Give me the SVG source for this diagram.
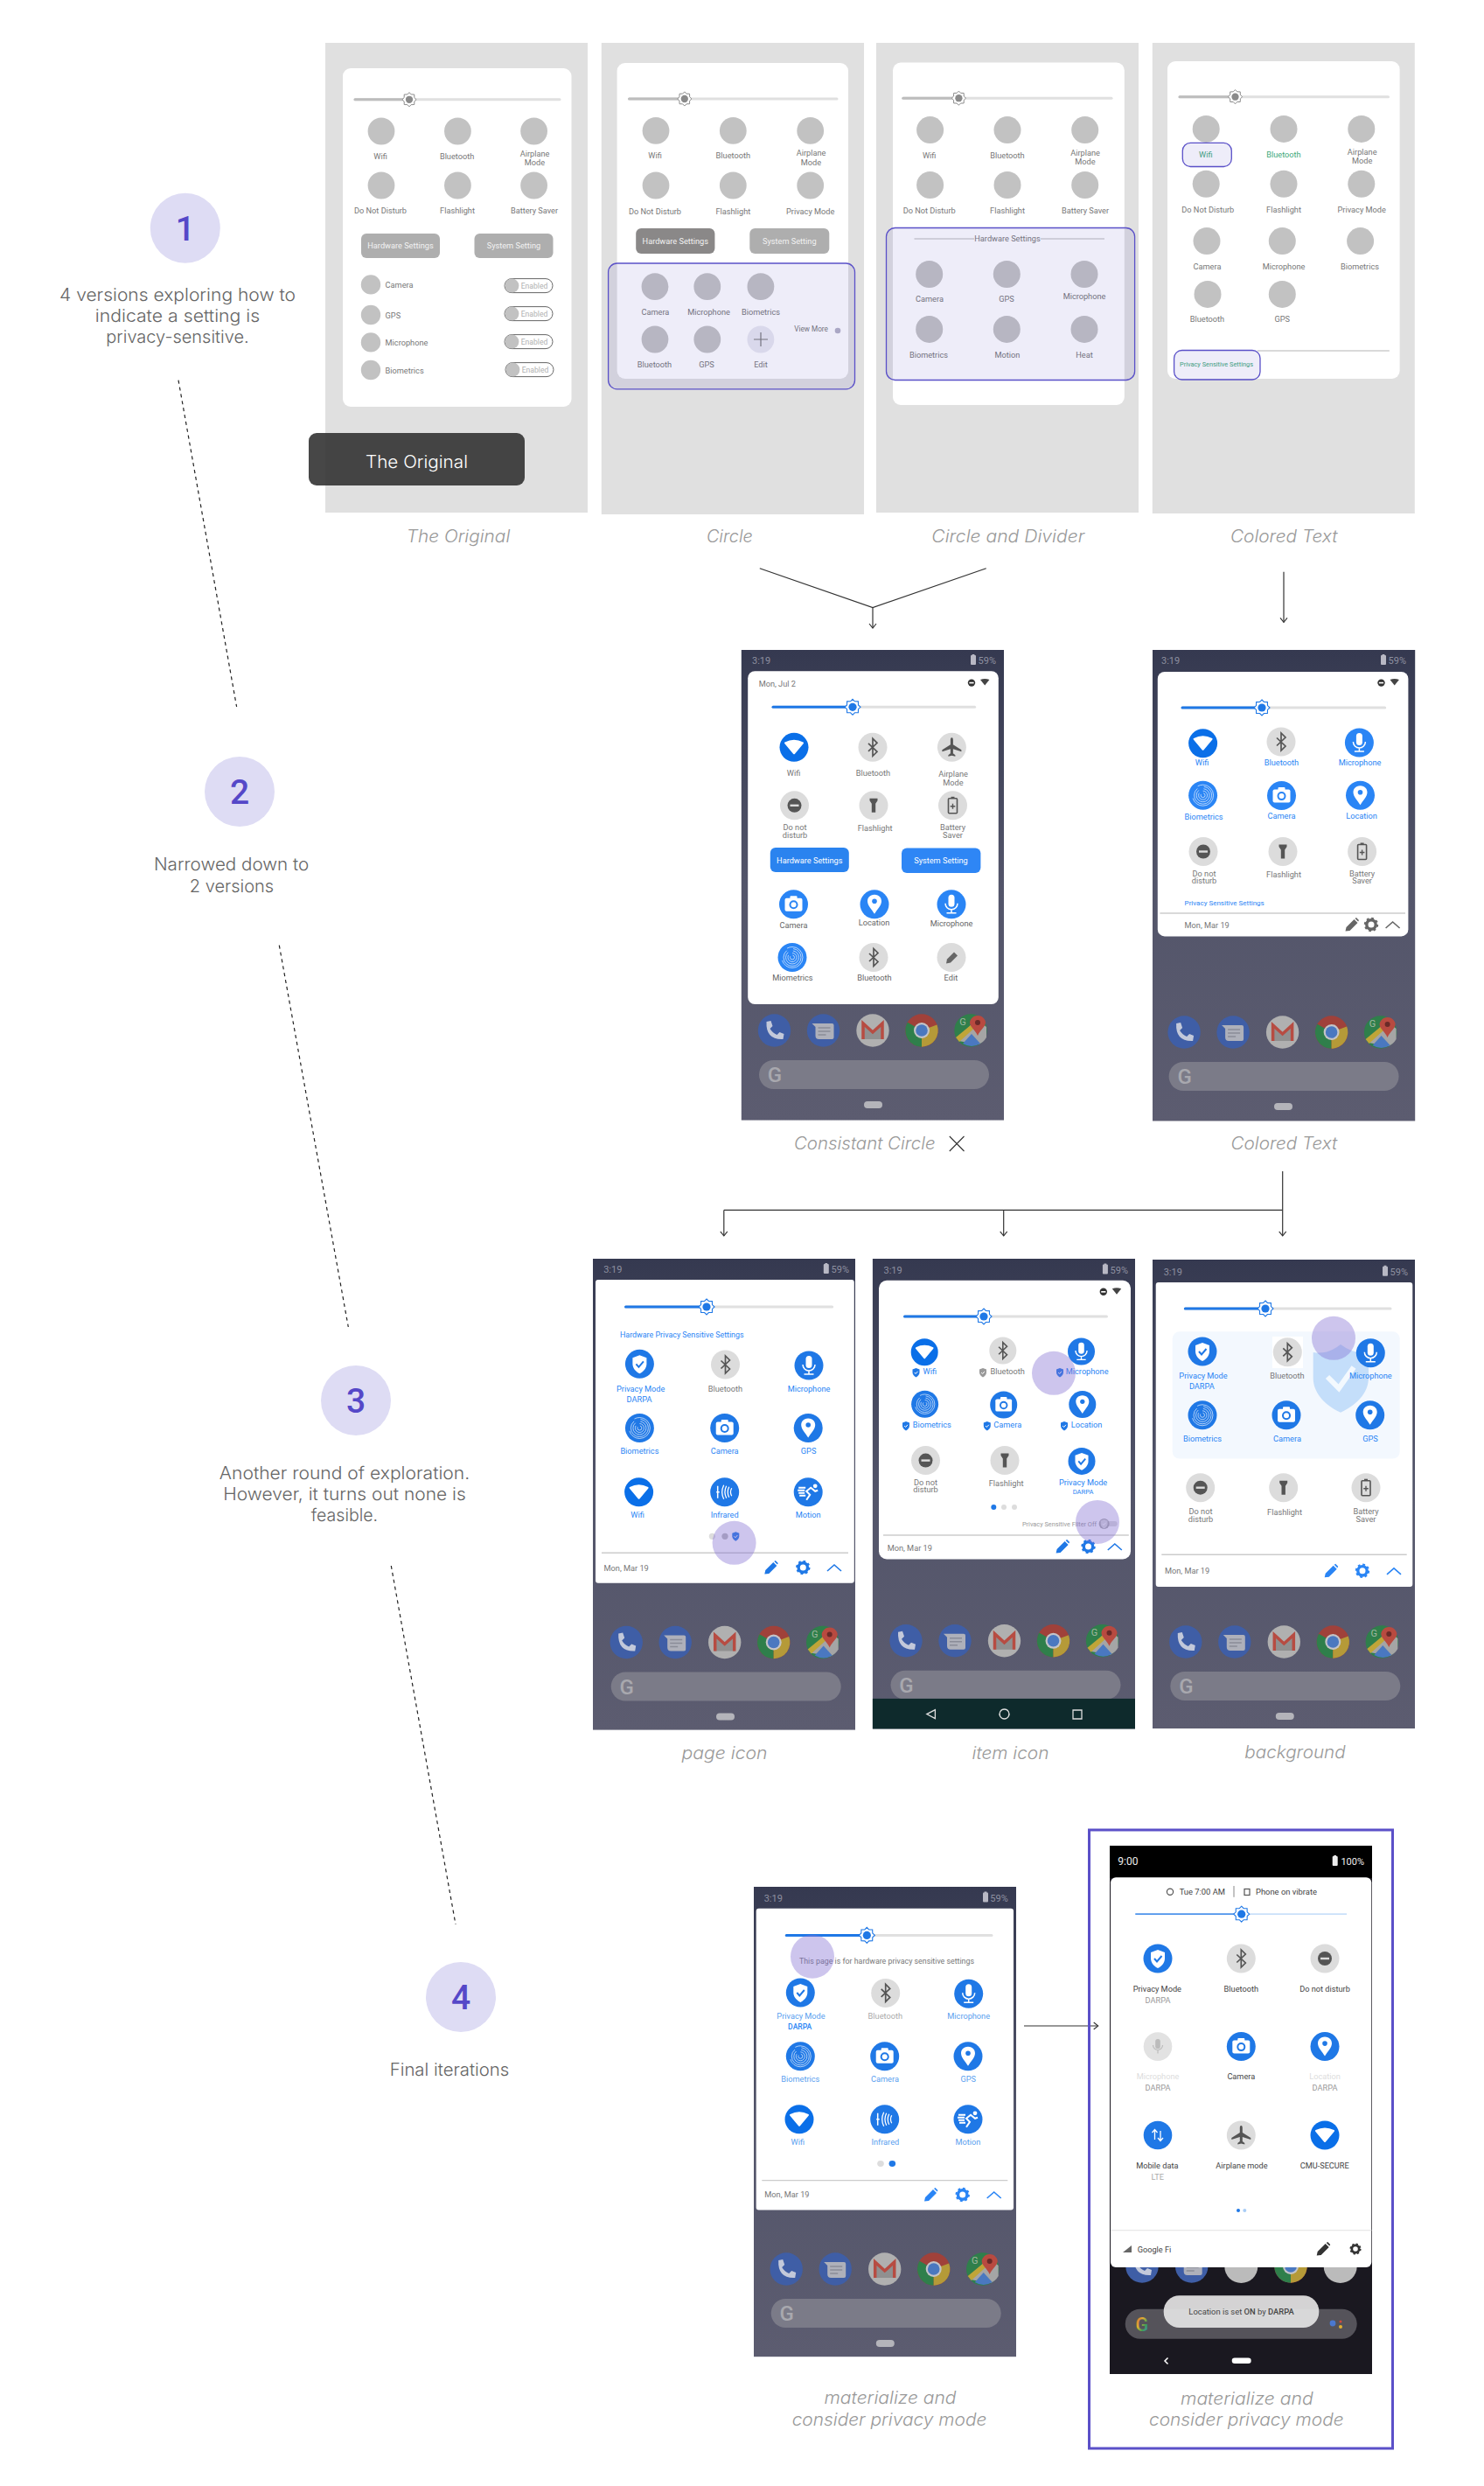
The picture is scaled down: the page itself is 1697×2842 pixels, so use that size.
<svg xmlns="http://www.w3.org/2000/svg" width="1697" height="2842" viewBox="0 0 1697 2842">
<style>
svg{font-family:Roboto,"Liberation Sans",sans-serif}
.bgw{fill:#fff}
.panel{fill:#e0e0e0}
.card{fill:#fff}
.wc{fill:#c2c2c2}
.hl{fill:#5a50c8;fill-opacity:.1;stroke:#5a50c8;stroke-width:1.3}
.touch{fill:#826ed2;fill-opacity:.4}
text{text-anchor:middle}
.t text,text.t{font-size:9.2px;fill:#777}
.tb text,text.tb{font-size:9.2px;fill:#2a85f5}
.tl text,text.tl{font-size:9.2px;fill:#5aa0ef}
.tk text,text.tk{font-size:9.2px;fill:#444}
.tm text,text.tm{font-size:9.2px;fill:#666}
.g text,text.g{font-size:9.2px;fill:#3ea87a}
.s{font-size:7.6px;fill:#999}
.st{font-size:11px;fill:#8e90a0}
.cap{font-family:Inter,"Open Sans",sans-serif;font-weight:300;font-style:italic;font-size:20px;fill:#999}
.body{font-family:Inter,"Open Sans",sans-serif;font-weight:300;font-size:20px;fill:#666}
.num{font-size:39px;font-weight:500;fill:#5548c8}
.step{fill:#dedcf4}
.tk0{stroke:#e0e0e0;stroke-width:3;stroke-linecap:round;fill:none}
.tk1{stroke:#bdbdbd;stroke-width:3;stroke-linecap:round;fill:none}
.tk2{stroke:#1f78e6;stroke-width:3;stroke-linecap:round;fill:none}
.btn{fill:#aeaeae}
.btxt{font-size:9.2px;fill:#f2f2f2}
.en{font-size:8.6px;fill:#b0b0b0}
.tog{fill:#fff;stroke:#666;stroke-width:1}
.div{stroke:#ccc;stroke-width:1.4}
.conn{fill:none;stroke:#333;stroke-width:1.2}
.dash{fill:none;stroke:#222;stroke-width:1.2;stroke-dasharray:4 4}
.ms{color:#1f78e6}
.date{font-size:9.2px;fill:#777;text-anchor:start}
.start{text-anchor:start}
.end{text-anchor:end}
.cb{color:#1f78e6}
.cc{color:#2a85f5}
.cd{color:#666}
.ck{color:#333}
</style>
<defs>
<linearGradient id="ph" x1="0" y1="0" x2="0" y2="1"><stop offset="0" stop-color="#353950"/><stop offset=".5" stop-color="#53556a"/><stop offset="1" stop-color="#5c5c70"/></linearGradient>
<linearGradient id="gg" x1="0" y1="0" x2="1" y2="1"><stop offset="0" stop-color="#d2483c"/><stop offset=".4" stop-color="#e0b030"/><stop offset=".65" stop-color="#3f9e55"/><stop offset="1" stop-color="#4285f4"/></linearGradient>
<marker id="ah" markerUnits="userSpaceOnUse" markerWidth="12" markerHeight="12" refX="7" refY="5" orient="auto"><path d="M2,1 L7,5 L2,9" fill="none" stroke="#333" stroke-width="1.1"/></marker>
<g id="sun"><path d="M0,-9 L2.4,-6.5 L6.4,-6.4 L6.5,-2.4 L9,0 L6.5,2.4 L6.4,6.4 L2.4,6.5 L0,9 L-2.4,6.5 L-6.4,6.4 L-6.5,2.4 L-9,0 L-6.5,-2.4 L-6.4,-6.4 L-2.4,-6.5Z" fill="#fff" stroke="currentColor" stroke-width="1.1"/><circle r="4.6" fill="currentColor"/></g>
<g id="b-wifi"><circle r="16.5" fill="#0a6fe8"/><path d="M-10,-5 Q0,-10 10,-5 L0,7Z" fill="#fff" stroke="#fff" stroke-width="2" stroke-linejoin="round"/></g>
<g id="b-cam"><circle r="16.5" fill="currentColor"/><rect x="-10" y="-7" width="20" height="15" rx="2" fill="#fff"/><rect x="-4" y="-9.5" width="8" height="4" rx="1" fill="#fff"/><circle cy=".5" r="5" fill="currentColor"/><circle cy=".5" r="3" fill="#fff"/></g>
<g id="b-loc"><circle r="16.5" fill="currentColor"/><path d="M0,-11 C-5.5,-11 -8,-7 -8,-3.5 C-8,1.5 -3,6 0,11 C3,6 8,1.5 8,-3.5 C8,-7 5.5,-11 0,-11Z" fill="#fff"/><circle cy="-3.5" r="2.8" fill="currentColor"/></g>
<g id="b-mic"><circle r="16.5" fill="currentColor"/><rect x="-3.5" y="-11" width="7" height="14" rx="3.5" fill="#fff"/><path d="M-7,-1 A7,7 0 0 0 7,-1 M0,6 V9.5 M-5.5,10 H5.5" fill="none" stroke="#fff" stroke-width="1.5"/></g>
<g id="b-fp"><circle r="16.5" fill="currentColor"/><g fill="none" stroke="#fff" stroke-opacity=".8" stroke-width=".8"><circle r="2.5" stroke-dasharray="9 3"/><circle r="5" stroke-dasharray="18 5"/><circle r="7.5" stroke-dasharray="30 6"/><circle r="10" stroke-dasharray="40 8"/><circle r="12" stroke-dasharray="34 16"/></g></g>
<g id="b-shield"><circle r="16.5" fill="currentColor"/><path d="M0,-10 L8,-7 V0 C8,5 4,9 0,11 C-4,9 -8,5 -8,0 V-7Z" fill="#fff"/><path d="M-4,0 L-1,3.5 L4.5,-3" fill="none" stroke="currentColor" stroke-width="2"/></g>
<g id="b-ir"><circle r="16.5" fill="currentColor"/><path d="M-8,-7 V7 M-9.5,0 H-6" stroke="#fff" stroke-width="1.5" fill="none"/><path d="M-1,-8 Q-5,0 -1,8 M2,-7 Q-1.5,0 2,7 M5,-6 Q2,0 5,6 M8,-4.5 Q5.5,0 8,4.5" fill="none" stroke="#fff" stroke-width="1.3"/></g>
<g id="b-run"><circle r="16.5" fill="currentColor"/><circle cx="8" cy="-7" r="2.4" fill="#fff"/><path d="M-2,9 L2,3 L-2,-1 L3,-5 L8,-1 L11,-2 M-11,-5 H-3 M-12,-2 H-4 M-11,1 H-4 M-10,4 H-3" fill="none" stroke="#fff" stroke-width="2"/></g>
<g id="g-bt"><circle r="16.5" fill="#dcdcdc"/><path d="M-5,-4.5 L5,5 L0,10 V-10 L5,-5 L-5,4.5" fill="none" stroke="#555" stroke-width="1.7"/></g>
<g id="g-plane"><circle r="16.5" fill="#dcdcdc"/><path d="M0,-11 C1.5,-11 1.5,-9 1.5,-8 V-3 L11,3 V5 L1.5,2 V7 L4,9 V10.5 L0,9.5 L-4,10.5 V9 L-1.5,7 V2 L-11,5 V3 L-1.5,-3 V-8 C-1.5,-9 -1.5,-11 0,-11Z" fill="#555"/></g>
<g id="g-dnd"><circle r="16.5" fill="#dcdcdc"/><circle r="8" fill="#555"/><rect x="-5" y="-1.2" width="10" height="2.4" fill="#dcdcdc"/></g>
<g id="g-flash"><circle r="16.5" fill="#dcdcdc"/><path d="M-4.5,-8 H4.5 V-5.5 L2.2,-2 V8 H-2.2 V-2 L-4.5,-5.5Z" fill="#555"/></g>
<g id="g-batt"><circle r="16.5" fill="#dcdcdc"/><rect x="-5" y="-8" width="10" height="17" rx="1" fill="none" stroke="#555" stroke-width="1.6"/><rect x="-2" y="-10" width="4" height="2" fill="#555"/><path d="M-2.8,1 H2.8 M0,-2 V4" stroke="#555" stroke-width="1.4"/></g>
<g id="g-edit"><circle r="16.5" fill="#dcdcdc"/><path d="M-6,7 L-5,2 L3,-6 L7,-2 L-1,6Z" fill="#666"/></g>
<g id="pencil"><path d="M-7,7.5 L-6,3 L3,-6 L7,-2 L-2,7Z M4,-7 L5.5,-8 L8.5,-5 L7.6,-3.4Z" fill="currentColor"/></g>
<g id="gear"><circle r="5.2" fill="none" stroke="currentColor" stroke-width="3.4"/><circle r="7.2" fill="none" stroke="currentColor" stroke-width="2" stroke-dasharray="2.8 2.85"/></g>
<path id="chev" d="M-8,4 L0,-3 L8,4" fill="none" stroke="currentColor" stroke-width="1.6"/>
<g id="ms"><path d="M0,-5 L4,-3.6 V0 C4,2.4 2,4.2 0,5.4 C-2,4.2 -4,2.4 -4,0 V-3.6Z" fill="currentColor"/><path d="M-1.8,0 L-.4,1.5 L2,-1.2" fill="none" stroke="#fff" stroke-width="1"/></g>
<g id="bat"><rect x="-3" y="-6" width="6" height="11" rx="1" fill="currentColor"/><rect x="-1.4" y="-7" width="2.8" height="1.6" fill="currentColor"/></g>
<g id="top-ic"><circle cx="0" r="4.2" fill="#333"/><rect x="-2.6" y="-.8" width="5.2" height="1.6" fill="#fff"/><path d="M10,-3.5 Q15.2,-5.5 20.4,-3.5 L15.2,3Z" fill="#444"/></g>
<g id="d-phone"><circle r="18.7" fill="#3f5ea6"/><path d="M-9,-10 L-4,-11 L-2,-5 L-5,-2 Q-2,3 3,5 L6,2 L11,4 L10,10 Q-10,11 -9,-10Z" fill="#c3c9da"/></g>
<g id="d-msg"><circle r="18.7" fill="#3f5ea6"/><path d="M-13,-8 H10 Q12,-8 12,-6 V8 Q12,10 10,10 H-5 Q-9,10 -9,6 V-4Z" fill="#aeb0ba"/><path d="M-6,-3 H8 M-6,1 H8 M-6,5 H3" stroke="#8a8c98" stroke-width="1.5"/></g>
<g id="d-gmail"><circle r="18.7" fill="#b0b0b0"/><path d="M-12,-8 L0,2 L12,-8 V10 H-12Z" fill="#909090"/><path d="M-11,10 V-8 L0,2 L11,-8 V10" fill="none" stroke="#b74c42" stroke-width="3.5"/></g>
<g id="d-chrome"><circle r="18.7" fill="#a0413a"/><path d="M0,0 L-16.2,-9.3 A18.7,18.7 0 0 0 0,18.7Z" fill="#2f7f4b"/><path d="M0,0 L17.5,-6.5 A18.7,18.7 0 0 1 0,18.7Z" fill="#b59a38"/><circle r="9" fill="#c4c4c8"/><circle r="6.8" fill="#4a78c0"/></g>
<g id="d-maps"><circle r="18.7" fill="#2f7f4b"/><path d="M-14,12 L6,-14 L18,-4 V8 A18.7,18.7 0 0 1 9,16Z" fill="#a5a5a5"/><path d="M-17,8 L6,-11 L9,-7 L-13,13Z" fill="#c0a538"/><path d="M-9,15 L1,4 L11,15 A18.7,18.7 0 0 1 -9,15Z" fill="#4a78c0"/><path d="M8,-17 C2,-17 -1,-12 -1,-9 C-1,-4 5,-1 8,6 C11,-1 17,-4 17,-9 C17,-12 14,-17 8,-17Z" fill="#b84a40"/><circle cx="8" cy="-9" r="3" fill="#6a2a28"/><text x="-9" y="-6" font-size="11" style="fill:#a0b8a0">G</text></g>
<g id="dock"><use href="#d-phone" x="-112.5"/><use href="#d-msg" x="-56.5"/><use href="#d-gmail"/><use href="#d-chrome" x="56"/><use href="#d-maps" x="112"/></g>
<g id="search"><rect x="-130" y="34" width="263" height="33" rx="16.5" fill="#7b7b88"/><text x="-112" y="59" font-size="24" font-weight="500" style="fill:#a8a8ae">G</text></g>
<rect id="pill" x="-10.5" y="81" width="21" height="8" rx="4" fill="#b4b4ba"/>
</defs>

<rect class="bgw" width="1697" height="2842"/>

<g id="connectors">
<path class="conn" d="M868.8,649.8 L998,694.5 L1127.7,649.8"/>
<path class="conn" d="M998,694.5 V718" marker-end="url(#ah)"/>
<path class="conn" d="M1468,653.8 V711.4" marker-end="url(#ah)"/>
<path class="conn" d="M827.8,1383.4 H1466.7"/>
<path class="conn" d="M1466.7,1339 V1412.8" marker-end="url(#ah)"/>
<path class="conn" d="M827.8,1383.4 V1412.8" marker-end="url(#ah)"/>
<path class="conn" d="M1147.7,1383.4 V1412.8" marker-end="url(#ah)"/>
<path class="conn" d="M1171,2316 H1255.7" marker-end="url(#ah)"/>
<path class="dash" d="M204,434.7 L270.6,808"/>
<path class="dash" d="M319.3,1080.7 L398.3,1517"/>
<path class="dash" d="M447.3,1790 L521,2200"/>
</g>

<g id="step-1"><circle class="step" cx="211.8" cy="260.8" r="40"/><text class="num" x="211.8" y="274.7">1</text>
<text class="body" x="203" y="344" textLength="270" lengthAdjust="spacingAndGlyphs">4 versions exploring how to</text>
<text class="body" x="203" y="368" textLength="188.6" lengthAdjust="spacingAndGlyphs">indicate a setting is</text>
<text class="body" x="203" y="392.2" textLength="163.3" lengthAdjust="spacingAndGlyphs">privacy-sensitive.</text></g>
<g id="step-2"><circle class="step" cx="274" cy="905" r="40"/><text class="num" x="274" y="919.3">2</text>
<text class="body" x="264.6" y="995.3" textLength="177.3" lengthAdjust="spacingAndGlyphs">Narrowed down to</text>
<text class="body" x="265" y="1020" textLength="96.3" lengthAdjust="spacingAndGlyphs">2 versions</text></g>
<g id="step-3"><circle class="step" cx="407" cy="1601" r="40"/><text class="num" x="407" y="1615">3</text>
<text class="body" x="394" y="1691" textLength="286.3" lengthAdjust="spacingAndGlyphs">Another round of exploration.</text>
<text class="body" x="394" y="1715" textLength="277.4" lengthAdjust="spacingAndGlyphs">However, it turns out none is</text>
<text class="body" x="394" y="1739" textLength="76.3" lengthAdjust="spacingAndGlyphs">feasible.</text></g>
<g id="step-4"><circle class="step" cx="527" cy="2283" r="40"/><text class="num" x="527" y="2297.3">4</text>
<text class="body" x="514" y="2373.3" textLength="136.6" lengthAdjust="spacingAndGlyphs">Final iterations</text></g>

<g id="wire-original">
<rect class="panel" x="372" y="49" width="300" height="537"/>
<rect class="card" x="392" y="78" width="261.5" height="387" rx="9"/>
<path class="tk0" d="M406,113.8 H640"/><path class="tk1" d="M406,113.8 H468"/><use href="#sun" style="color:#8a8a8a" transform="translate(468,113.8) scale(.9)"/>
<g class="wc"><circle cx="436" cy="150" r="15.4"/><circle cx="523.4" cy="150" r="15.4"/><circle cx="610.6" cy="150" r="15.4"/><circle cx="436" cy="212" r="15.4"/><circle cx="523.4" cy="212" r="15.4"/><circle cx="610.6" cy="212" r="15.4"/>
<circle cx="424" cy="325.4" r="11.2"/><circle cx="424" cy="360" r="11.2"/><circle cx="424" cy="391.4" r="11.2"/><circle cx="424" cy="423" r="11.2"/></g>
<g class="t"><text x="435" y="181.5">Wifi</text><text x="522.6" y="181.5">Bluetooth</text><text x="611.5" y="178.7">Airplane</text><text x="611.5" y="189">Mode</text><text x="435" y="244.2">Do Not Disturb</text><text x="523" y="244.2">Flashlight</text><text x="611" y="244.2">Battery Saver</text></g>
<rect class="btn" x="413" y="267" width="90" height="28" rx="6"/><text class="btxt" x="458" y="284">Hardware Settings</text>
<rect class="btn" x="542.5" y="267" width="90" height="28" rx="6"/><text class="btxt" x="587.5" y="284">System Setting</text>
<g class="t"><text class="start" x="440.6" y="329">Camera</text><text class="start" x="440.6" y="363.5">GPS</text><text class="start" x="440.6" y="395">Microphone</text><text class="start" x="440.6" y="426.5">Biometrics</text></g>
<rect class="tog" x="577" y="318.6" width="55" height="16" rx="8"/><circle class="wc" cx="585.4" cy="326.6" r="8"/><text class="en" x="611" y="329.6">Enabled</text>
<rect class="tog" x="577" y="350.6" width="55" height="16" rx="8"/><circle class="wc" cx="585.4" cy="358.6" r="8"/><text class="en" x="611" y="361.6">Enabled</text>
<rect class="tog" x="577" y="382.6" width="55" height="16" rx="8"/><circle class="wc" cx="585.4" cy="390.6" r="8"/><text class="en" x="611" y="393.6">Enabled</text>
<rect class="tog" x="578" y="414.6" width="55" height="16" rx="8"/><circle class="wc" cx="586.4" cy="422.6" r="8"/><text class="en" x="612" y="425.6">Enabled</text>
<rect x="353" y="495" width="247" height="60" rx="9" fill="#333" fill-opacity=".9"/>
<text x="476.5" y="535" font-size="20" textLength="117" lengthAdjust="spacingAndGlyphs" style="font-family:Inter,'Open Sans',sans-serif;font-weight:300;fill:#fff">The Original</text>
<text class="cap" x="524" y="620" textLength="118.5" lengthAdjust="spacingAndGlyphs">The Original</text>
</g>

<g id="wire-circle">
<rect class="panel" x="687.8" y="49" width="300.2" height="539"/>
<rect class="card" x="705.6" y="72" width="264.4" height="361" rx="9"/>
<path class="tk0" d="M719.5,113 H957"/><path class="tk1" d="M719.5,113 H782.8"/><use href="#sun" style="color:#8a8a8a" transform="translate(782.8,113) scale(.9)"/>
<g class="wc"><circle cx="750" cy="149.4" r="15.4"/><circle cx="838.3" cy="149.4" r="15.4"/><circle cx="926.7" cy="149.4" r="15.4"/><circle cx="750" cy="212" r="15.4"/><circle cx="838.3" cy="212" r="15.4"/><circle cx="926.7" cy="212" r="15.4"/>
<circle cx="749" cy="327.7" r="15.4"/><circle cx="808.8" cy="327.7" r="15.4"/><circle cx="869.9" cy="327.7" r="15.4"/><circle cx="749" cy="388" r="15.4"/><circle cx="808.8" cy="388" r="15.4"/></g>
<circle cx="869.9" cy="388" r="15.4" fill="#e8e8f0"/><path d="M862,388 H878 M870,380 V396" stroke="#777" stroke-width="1.2"/>
<g class="t"><text x="749" y="181">Wifi</text><text x="838.3" y="181">Bluetooth</text><text x="927.5" y="178">Airplane</text><text x="927.5" y="188.6">Mode</text><text x="749" y="244.7">Do Not Disturb</text><text x="838.3" y="244.7">Flashlight</text><text x="926.7" y="244.7">Privacy Mode</text></g>
<rect x="727.2" y="261" width="90.2" height="29" rx="6" fill="#8a8888"/><text class="btxt" x="772.3" y="278.8">Hardware Settings</text>
<rect class="btn" x="857.3" y="261" width="91" height="29" rx="6"/><text class="btxt" x="902.8" y="278.8">System Setting</text>
<g class="t"><text x="749.4" y="359.8">Camera</text><text x="810.5" y="359.8">Microphone</text><text x="870" y="359.8">Biometrics</text><text x="748.5" y="420">Bluetooth</text><text x="808" y="420">GPS</text><text x="870" y="420">Edit</text></g>
<text class="t" x="927.6" y="379" style="font-size:8.2px">View More</text><circle cx="958" cy="378" r="3.3" fill="#b4b2c6"/>
<rect class="hl" x="695.6" y="301" width="281.9" height="143.8" rx="10"/>
<text class="cap" x="834.4" y="620" textLength="53" lengthAdjust="spacingAndGlyphs">Circle</text>
</g>

<g id="wire-divider">
<rect class="panel" x="1002" y="49" width="300" height="537"/>
<rect class="card" x="1021" y="71.5" width="264.8" height="391.5" rx="9"/>
<path class="tk0" d="M1032.8,112.2 H1271"/><path class="tk1" d="M1032.8,112.2 H1096.4"/><use href="#sun" style="color:#8a8a8a" transform="translate(1096.4,112.2) scale(.9)"/>
<g class="wc"><circle cx="1063.6" cy="148.6" r="15.5"/><circle cx="1152" cy="148.6" r="15.5"/><circle cx="1240.7" cy="148.6" r="15.5"/><circle cx="1063.6" cy="211.5" r="15.5"/><circle cx="1152" cy="211.5" r="15.5"/><circle cx="1240.7" cy="211.5" r="15.5"/>
<circle cx="1062.7" cy="313.5" r="15.5"/><circle cx="1151.3" cy="313.5" r="15.5"/><circle cx="1240" cy="313.5" r="15.5"/><circle cx="1062.7" cy="376.4" r="15.5"/><circle cx="1151.3" cy="376.4" r="15.5"/><circle cx="1240" cy="376.4" r="15.5"/></g>
<g class="t"><text x="1062.7" y="180.7">Wifi</text><text x="1152" y="180.7">Bluetooth</text><text x="1241" y="177.9">Airplane</text><text x="1241" y="188.2">Mode</text><text x="1062.7" y="244.2">Do Not Disturb</text><text x="1152" y="244.2">Flashlight</text><text x="1241" y="244.2">Battery Saver</text>
<text x="1152" y="276.4">Hardware Settings</text><text x="1063" y="345.2">Camera</text><text x="1151" y="345.2">GPS</text><text x="1240" y="342.4">Microphone</text><text x="1062" y="408.8">Biometrics</text><text x="1152" y="408.8">Motion</text><text x="1240" y="408.8">Heat</text></g>
<path d="M1045.5,273 H1114 M1190,273 H1263" stroke="#bbb" stroke-width="1"/>
<rect class="hl" x="1013.5" y="260.5" width="284.1" height="174" rx="10"/>
<text class="cap" x="1152.8" y="620" textLength="175" lengthAdjust="spacingAndGlyphs">Circle and Divider</text>
</g>

<g id="wire-colored">
<rect class="panel" x="1317.8" y="49" width="300" height="538"/>
<rect class="card" x="1335" y="70" width="265.6" height="363" rx="9"/>
<path class="tk0" d="M1349,110.7 H1587.5"/><path class="tk1" d="M1349,110.7 H1412.5"/><use href="#sun" style="color:#8a8a8a" transform="translate(1412.5,110.7) scale(.9)"/>
<g class="wc"><circle cx="1379.2" cy="147.4" r="15.5"/><circle cx="1468" cy="147.4" r="15.5"/><circle cx="1556.8" cy="147.4" r="15.5"/><circle cx="1379.2" cy="210.3" r="15.5"/><circle cx="1468" cy="210.3" r="15.5"/><circle cx="1556.8" cy="210.3" r="15.5"/>
<circle cx="1380" cy="275.6" r="15.5"/><circle cx="1466.3" cy="275.6" r="15.5"/><circle cx="1555.6" cy="275.6" r="15.5"/><circle cx="1381" cy="336.4" r="15.5"/><circle cx="1466.3" cy="336.4" r="15.5"/></g>
<g class="g"><text x="1378.8" y="179.5">Wifi</text><text x="1468" y="179.5">Bluetooth</text></g>
<g class="t"><text x="1557.7" y="176.7">Airplane</text><text x="1557.7" y="187">Mode</text><text x="1381.3" y="243.2">Do Not Disturb</text><text x="1468" y="243.2">Flashlight</text><text x="1557.2" y="243.2">Privacy Mode</text><text x="1380.5" y="307.6">Camera</text><text x="1468" y="307.6">Microphone</text><text x="1555" y="307.6">Biometrics</text><text x="1380.5" y="368.2">Bluetooth</text><text x="1466.3" y="368.2">GPS</text></g>
<path d="M1437.7,401 H1588.8" stroke="#ccc" stroke-width="1.4"/>
<text class="g" x="1391" y="419" textLength="84" lengthAdjust="spacingAndGlyphs" style="font-size:8px">Privacy Sensitive Settings</text>
<rect class="hl" x="1352.3" y="163.3" width="56" height="27.2" rx="9"/>
<rect class="hl" x="1342.6" y="400.5" width="98.4" height="33.5" rx="9"/>
<text class="cap" x="1468.2" y="620" textLength="122.5" lengthAdjust="spacingAndGlyphs">Colored Text</text>
</g>

<g id="phone-consistant">
<rect x="847.8" y="743" width="300.2" height="537.6" fill="url(#ph)"/>
<text class="st start" x="860" y="759">3:19</text><use href="#bat" x="1113" y="755" style="color:#b8b8c4"/><text class="st end" x="1139" y="759">59%</text>
<rect class="card" x="855.2" y="767.2" width="286.6" height="380.8" rx="8"/>
<text class="date" x="867.7" y="785">Mon, Jul 2</text><use href="#top-ic" x="1111" y="780.6"/>
<path class="tk0" d="M884,808.3 H1114.6"/><path class="tk2" d="M884,808.3 H975"/><use href="#sun" x="975" y="808.3" class="cb"/>
<g class="cc">
<use href="#b-wifi" x="908" y="854.3"/><use href="#g-bt" x="998" y="854.3"/><use href="#g-plane" x="1088.4" y="854.3"/>
<use href="#g-dnd" x="908.5" y="920.8"/><use href="#g-flash" x="999" y="920.8"/><use href="#g-batt" x="1089.5" y="920.8"/>
<use href="#b-cam" x="907.5" y="1033.8"/><use href="#b-loc" x="1000" y="1033.8"/><use href="#b-mic" x="1088" y="1033.8"/>
<use href="#b-fp" x="906" y="1094.5"/><use href="#g-bt" x="999" y="1094.5"/><use href="#g-edit" x="1088" y="1094.5"/>
</g>
<g class="t"><text x="907.5" y="887.4">Wifi</text><text x="998.5" y="887.4">Bluetooth</text><text x="1090" y="887.8">Airplane</text><text x="1090" y="897.7">Mode</text><text x="909" y="949.4">Do not</text><text x="909" y="957.5">disturb</text><text x="1000.6" y="949.8">Flashlight</text><text x="1089.5" y="949.4">Battery</text><text x="1089.5" y="957.5">Saver</text></g>
<rect x="880.8" y="969" width="90" height="28" rx="6" fill="#2a83ef"/><text class="btxt" x="925.8" y="986.5" style="fill:#fff">Hardware Settings</text>
<rect x="1031" y="969.5" width="90.4" height="28.5" rx="6" fill="#2e86f5"/><text class="btxt" x="1076" y="987" style="fill:#fff">System Setting</text>
<g class="tm"><text x="907.5" y="1061">Camera</text><text x="999.5" y="1058">Location</text><text x="1088" y="1058.8">Microphone</text><text x="906.4" y="1121">Miometrics</text><text x="1000" y="1121">Bluetooth</text><text x="1087.4" y="1121">Edit</text></g>
<use href="#dock" x="998" y="1178"/><use href="#search" x="998" y="1178"/><use href="#pill" x="998.5" y="1178"/>
<text class="cap" x="988.8" y="1314" textLength="161.6" lengthAdjust="spacingAndGlyphs">Consistant Circle</text>
<path d="M1085.8,1299 L1102.5,1316 M1102.5,1299 L1085.8,1316" stroke="#333" stroke-width="1.1"/>
</g>

<g id="phone-colored">
<rect x="1318" y="743" width="300.2" height="538.5" fill="url(#ph)"/>
<text class="st start" x="1328" y="759">3:19</text><use href="#bat" x="1582" y="755" style="color:#b8b8c4"/><text class="st end" x="1608" y="759">59%</text>
<rect class="card" x="1323.8" y="768" width="286.6" height="302.4" rx="8"/>
<use href="#top-ic" x="1579.5" y="780.6"/>
<path class="tk0" d="M1352,809 H1583.7"/><path class="tk2" d="M1352,809 H1443"/><use href="#sun" x="1443" y="809" class="cb"/>
<g class="cc">
<use href="#b-wifi" x="1375.6" y="849.8"/><use href="#g-bt" x="1465" y="848"/><use href="#b-mic" x="1554.4" y="849"/>
<use href="#b-fp" x="1375.6" y="909.2"/><use href="#b-cam" x="1465.5" y="909.6"/><use href="#b-loc" x="1555.5" y="909.2"/>
<use href="#g-dnd" x="1376" y="973.5"/><use href="#g-flash" x="1467" y="973.5"/><use href="#g-batt" x="1557.6" y="973.5"/>
</g>
<g class="tb"><text x="1374.5" y="875.2">Wifi</text><text x="1465.5" y="875.2">Bluetooth</text><text x="1555" y="875.2">Microphone</text><text x="1376.6" y="937">Biometrics</text><text x="1465.5" y="936">Camera</text><text x="1557" y="935.6">Location</text></g>
<g class="t"><text x="1377" y="1002">Do not</text><text x="1377" y="1010">disturb</text><text x="1468" y="1002.6">Flashlight</text><text x="1557.6" y="1002">Battery</text><text x="1557.6" y="1010">Saver</text></g>
<text class="tb start" x="1354.6" y="1035" style="font-size:8px">Privacy Sensitive Settings</text>
<path class="div" d="M1326.4,1044 H1607"/>
<text class="date" x="1354.6" y="1061">Mon, Mar 19</text>
<g class="cd"><use href="#pencil" x="1545.5" y="1057"/><use href="#gear" x="1568" y="1057"/><use href="#chev" x="1592.6" y="1057"/></g>
<use href="#dock" x="1466.6" y="1180"/><use href="#search" x="1466.6" y="1180"/><use href="#pill" x="1467.5" y="1180"/>
<text class="cap" x="1468.4" y="1314" textLength="121.8" lengthAdjust="spacingAndGlyphs">Colored Text</text>
</g>

<g id="phone-page-icon">
<rect x="678" y="1439" width="300" height="538.6" fill="url(#ph)"/>
<text class="st start" x="690.2" y="1455">3:19</text><use href="#bat" x="944.8" y="1451" style="color:#b8b8c4"/><text class="st end" x="971" y="1455">59%</text>
<rect class="card" x="681" y="1463" width="295.8" height="346.7" rx="3"/>
<path class="tk0" d="M715.5,1494 H951.6"/><path class="tk2" d="M715.5,1494 H808"/><use href="#sun" x="808" y="1494" class="cb"/>
<text class="tb" x="779.8" y="1529" textLength="141.6" lengthAdjust="spacingAndGlyphs">Hardware Privacy Sensitive Settings</text>
<g class="cb">
<use href="#b-shield" x="731.4" y="1559.3"/><use href="#g-bt" x="829.5" y="1560"/><use href="#b-mic" x="925" y="1561"/>
<use href="#b-fp" x="731.4" y="1632.5"/><use href="#b-cam" x="828.7" y="1632.5"/><use href="#b-loc" x="924.2" y="1632.5"/>
<use href="#b-wifi" x="730.6" y="1705.8"/><use href="#b-ir" x="828.7" y="1705.8"/><use href="#b-run" x="924.2" y="1705.8"/>
</g>
<g class="tb"><text x="732.7" y="1591">Privacy Mode</text><text x="731" y="1603">DARPA</text><text x="925" y="1591">Microphone</text><text x="731.4" y="1662.3">Biometrics</text><text x="828.7" y="1662.3">Camera</text><text x="924.6" y="1662.3">GPS</text><text x="729" y="1734.6">Wifi</text><text x="828.7" y="1734.6">Infrared</text><text x="924.2" y="1734.6">Motion</text></g>
<text class="t" x="829.5" y="1591">Bluetooth</text>
<circle cx="814.4" cy="1756.3" r="3.6" fill="#ddd"/><circle cx="829" cy="1756.3" r="3.6" fill="#bbb"/><use href="#ms" x="841.3" y="1756.3" class="ms"/>
<path class="div" d="M688,1775.2 H970"/>
<text class="date" x="690.6" y="1795.5">Mon, Mar 19</text>
<g class="cb"><use href="#pencil" x="881.3" y="1792"/><use href="#gear" x="918.3" y="1792"/><use href="#chev" x="954" y="1792"/></g>
<circle class="touch" cx="839.6" cy="1763.8" r="25"/>
<use href="#dock" x="828.7" y="1877.5"/><use href="#search" x="828.7" y="1877.5"/><use href="#pill" x="829.5" y="1877.5"/>
<text class="cap" x="828.5" y="2011" textLength="98" lengthAdjust="spacingAndGlyphs">page icon</text>
</g>

<g id="phone-item-icon">
<rect x="997.9" y="1439" width="300.1" height="537.4" fill="url(#ph)"/>
<text class="st start" x="1010.5" y="1455.5">3:19</text><use href="#bat" x="1263.9" y="1451.5" style="color:#b8b8c4"/><text class="st end" x="1290" y="1455.5">59%</text>
<rect class="card" x="1005" y="1463.8" width="288" height="318.6" rx="9"/>
<use href="#top-ic" x="1261.8" y="1476.8"/>
<path class="tk0" d="M1034.5,1505 H1265.5"/><path class="tk2" d="M1034.5,1505 H1125"/><use href="#sun" x="1125" y="1505" class="cb"/>
<g class="cb">
<use href="#b-wifi" transform="translate(1057.2,1545.8) scale(.94)"/><use href="#g-bt" transform="translate(1146.8,1544) scale(.94)"/><use href="#b-mic" transform="translate(1236.5,1545) scale(.94)"/>
<use href="#b-fp" transform="translate(1057.6,1605.2) scale(.94)"/><use href="#b-cam" transform="translate(1147.7,1606) scale(.94)"/><use href="#b-loc" transform="translate(1237.8,1605.6) scale(.94)"/>
<use href="#g-dnd" x="1058.5" y="1669.6"/><use href="#g-flash" x="1149" y="1669.6"/><use href="#b-shield" transform="translate(1237,1670.4) scale(.94)"/>
<use href="#ms" x="1047.5" y="1569"/><use href="#ms" x="1124" y="1569" style="color:#999"/><use href="#ms" x="1212" y="1569"/><use href="#ms" x="1036" y="1630"/><use href="#ms" x="1128.8" y="1630"/><use href="#ms" x="1217" y="1630"/>
</g>
<g class="tb"><text class="start" x="1055.5" y="1571.3">Wifi</text><text class="start" x="1218.8" y="1571.3">Microphone</text><text class="start" x="1043.7" y="1632.4">Biometrics</text><text class="start" x="1136.3" y="1632.4">Camera</text><text class="start" x="1224.7" y="1632.4">Location</text><text x="1238.6" y="1698">Privacy Mode</text><text x="1238.6" y="1708" style="font-size:7.6px">DARPA</text></g>
<g class="t"><text class="start" x="1132.5" y="1571.3">Bluetooth</text><text x="1058.5" y="1698">Do not</text><text x="1058.5" y="1706">disturb</text><text x="1150.6" y="1699">Flashlight</text></g>
<circle cx="1136.3" cy="1723" r="3" fill="#1f78e6"/><circle cx="1148" cy="1723" r="3" fill="#ddd"/><circle cx="1160" cy="1723" r="3" fill="#ddd"/>
<text class="s" x="1211.5" y="1745.4" textLength="85" lengthAdjust="spacingAndGlyphs">Privacy Sensitive Filter Off</text>
<rect x="1257" y="1739" width="20.7" height="6" rx="3" fill="#ddd"/><circle cx="1262.6" cy="1742" r="6" fill="#aaa"/><use href="#ms" x="1262.6" y="1742" style="color:#ddd"/>
<path class="div" d="M1010,1755 H1290.8"/>
<text class="date" x="1014.7" y="1772.5">Mon, Mar 19</text>
<g class="cb"><use href="#pencil" x="1214.6" y="1768"/><use href="#gear" x="1244.5" y="1768"/><use href="#chev" x="1274.8" y="1768"/></g>
<circle class="touch" cx="1205" cy="1569.8" r="25"/><circle class="touch" cx="1255" cy="1739.9" r="25"/>
<use href="#dock" x="1148.5" y="1875.8"/><use href="#search" x="1148.5" y="1875.8"/>
<rect x="997.9" y="1941.9" width="300.1" height="34.5" fill="#0e2a2c"/>
<path d="M1069.4,1954.6 V1964.6 L1059.8,1959.6Z M1148.5,1954 a5.5,5.5 0 1 0 .01,0Z M1227,1955 h10 v10 h-10Z" fill="none" stroke="#ddd" stroke-width="1.3"/>
<text class="cap" x="1155.5" y="2011" textLength="88" lengthAdjust="spacingAndGlyphs">item icon</text>
</g>

<g id="phone-background">
<rect x="1318" y="1440" width="300" height="536" fill="url(#ph)"/>
<text class="st start" x="1330.7" y="1457.7">3:19</text><use href="#bat" x="1584" y="1453.7" style="color:#b8b8c4"/><text class="st end" x="1610" y="1457.7">59%</text>
<rect class="card" x="1321.7" y="1465.9" width="293.6" height="348.1" rx="3"/>
<path class="tk0" d="M1355.3,1496 H1590"/><path class="tk2" d="M1355.3,1496 H1447"/><use href="#sun" x="1447" y="1496" class="cb"/>
<rect x="1340.7" y="1522.3" width="260" height="145.2" rx="8" fill="#f3f8fe"/>
<path d="M1533,1537 Q1549,1549 1565,1546 V1575 C1565,1593 1550,1607 1533,1614.8 C1516,1607 1501.7,1593 1501.7,1575 V1546 Q1518,1549 1533,1537Z" fill="#96c3f5" fill-opacity=".5"/>
<path d="M1518,1574 L1531,1587 L1548,1563" fill="none" stroke="#fff" stroke-opacity=".8" stroke-width="6"/>
<rect x="1455" y="1528" width="35" height="36" fill="#fff"/>
<g class="cb">
<use href="#b-shield" x="1375" y="1545"/><use href="#g-bt" x="1472.3" y="1545.8"/><use href="#b-mic" x="1567.3" y="1546.7"/>
<use href="#b-fp" x="1375" y="1617.8"/><use href="#b-cam" x="1471" y="1617.8"/><use href="#b-loc" x="1566.7" y="1617.8"/>
<use href="#g-dnd" x="1372.7" y="1700.7"/><use href="#g-flash" x="1467.7" y="1700.7"/><use href="#g-batt" x="1562" y="1700.7"/>
</g>
<g class="tb"><text x="1376" y="1576">Privacy Mode</text><text x="1374.3" y="1588">DARPA</text><text x="1567.3" y="1576">Microphone</text><text x="1375" y="1647.5">Biometrics</text><text x="1472" y="1647.5">Camera</text><text x="1567" y="1647.5">GPS</text></g>
<g class="t"><text x="1472" y="1576">Bluetooth</text><text x="1373" y="1731">Do not</text><text x="1373" y="1740">disturb</text><text x="1469" y="1731.5">Flashlight</text><text x="1562" y="1731">Battery</text><text x="1562" y="1740">Saver</text></g>
<path class="div" d="M1328.3,1777.3 H1608.7"/>
<text class="date" x="1332" y="1799">Mon, Mar 19</text>
<g class="cc"><use href="#pencil" x="1521.7" y="1795.8"/><use href="#gear" x="1558" y="1795.8"/><use href="#chev" x="1594" y="1795.8"/></g>
<circle class="touch" cx="1525" cy="1529.8" r="25"/>
<use href="#dock" x="1468.3" y="1877"/><use href="#search" x="1468.3" y="1877"/><use href="#pill" x="1469.3" y="1877"/>
<text class="cap" x="1481" y="2010" textLength="115.3" lengthAdjust="spacingAndGlyphs">background</text>
</g>

<g id="phone-final-a">
<rect x="862" y="2157" width="300" height="537.2" fill="url(#ph)"/>
<text class="st start" x="873.7" y="2173.5">3:19</text><use href="#bat" x="1127" y="2169.5" style="color:#b8b8c4"/><text class="st end" x="1152.7" y="2173.5">59%</text>
<rect class="card" x="864.7" y="2181.7" width="294.3" height="344.7" rx="3"/>
<path class="tk0" d="M899.3,2212.4 H1134"/><path class="tk2" d="M899.3,2212.4 H991.3"/><use href="#sun" x="991.3" y="2212.4" class="cb"/>
<text class="t" x="1014" y="2245" textLength="200" lengthAdjust="spacingAndGlyphs">This page is for hardware privacy sensitive settings</text>
<g class="cb">
<use href="#b-shield" x="915.3" y="2278"/><use href="#g-bt" x="1012.7" y="2278.4"/><use href="#b-mic" x="1107.7" y="2279.2"/>
<use href="#b-fp" x="915.3" y="2350.8"/><use href="#b-cam" x="1011.7" y="2350.8"/><use href="#b-loc" x="1107" y="2350.8"/>
<use href="#b-wifi" x="914" y="2422.8"/><use href="#b-ir" x="1011.7" y="2422.8"/><use href="#b-run" x="1107" y="2422.8"/>
</g>
<g class="tl"><text x="916" y="2308.4">Privacy Mode</text><text x="1107.7" y="2308.4">Microphone</text><text x="915.3" y="2380">Biometrics</text><text x="1012" y="2380">Camera</text><text x="1107.3" y="2380">GPS</text><text x="912.3" y="2452">Wifi</text><text x="1012.3" y="2452">Infrared</text><text x="1107" y="2452">Motion</text></g>
<text class="tb" x="914.7" y="2320.4" style="font-size:8.6px;font-weight:500">DARPA</text>
<text class="t" x="1012.3" y="2308.4" style="fill:#aaa">Bluetooth</text>
<ellipse cx="1007" cy="2473.5" rx="3.8" ry="3.4" fill="#ddd"/><ellipse cx="1020.3" cy="2473.5" rx="3.8" ry="3.4" fill="#1f78e6"/>
<path class="div" d="M871.3,2492.6 H1152.3"/>
<text class="date" x="874.3" y="2512">Mon, Mar 19</text>
<g class="cc"><use href="#pencil" x="1064" y="2509"/><use href="#gear" x="1100.7" y="2509"/><use href="#chev" x="1136.7" y="2509"/></g>
<circle class="touch" cx="929" cy="2236.7" r="25"/>
<use href="#dock" x="1011.7" y="2594"/><use href="#search" x="1011.7" y="2594"/><use href="#pill" x="1012.3" y="2594"/>
<text class="cap" x="1018" y="2748.4" textLength="151" lengthAdjust="spacingAndGlyphs">materialize and</text>
<text class="cap" x="1017" y="2772.7" textLength="222.7" lengthAdjust="spacingAndGlyphs">consider privacy mode</text>
</g>

<g id="phone-final-b">
<rect x="1245.5" y="2092" width="347" height="707" fill="none" stroke="#5b50c8" stroke-width="3"/>
<rect x="1269" y="2110" width="300" height="604" fill="#1a1820"/>
<rect x="1269" y="2110" width="300" height="37" fill="#000"/>
<text x="1278.3" y="2132" class="start" style="font-size:12px;fill:#eee">9:00</text><use href="#bat" x="1526.7" y="2128" style="color:#eee"/><text x="1560" y="2132" class="end" style="font-size:11px;fill:#eee">100%</text>
<use href="#d-phone" x="1306" y="2591"/><use href="#d-msg" x="1362.7" y="2591"/><circle cx="1419.3" cy="2591" r="19" fill="#bbb"/><use href="#d-chrome" x="1476" y="2591"/><circle cx="1532.7" cy="2591" r="19" fill="#bbb"/>
<rect class="card" x="1270" y="2146.2" width="298.3" height="445.8" rx="6"/>
<g class="tk"><text x="1374.8" y="2166" style="font-size:9.4px">Tue 7:00 AM</text><text x="1471" y="2166" style="font-size:9.4px">Phone on vibrate</text></g>
<circle cx="1338" cy="2162.7" r="3.6" fill="none" stroke="#555" stroke-width="1.2"/>
<path d="M1411,2156 V2168.8" stroke="#888" stroke-width="1"/>
<rect x="1423" y="2159.5" width="6" height="7" fill="none" stroke="#555" stroke-width="1.2"/>
<path d="M1298.3,2188.2 H1540" stroke="#b5d3f7" stroke-width="1.2"/><path d="M1298.3,2188.2 H1419.7" stroke="#1f78e6" stroke-width="1.2"/><use href="#sun" x="1419.7" y="2188.2" class="cb"/>
<g class="cb">
<use href="#b-shield" x="1324" y="2239"/><use href="#g-bt" x="1419.3" y="2239"/><use href="#g-dnd" x="1515" y="2239"/>
<circle cx="1324" cy="2339.6" r="16.3" fill="#e2e2e2"/><rect x="1321.2" y="2331" width="5.6" height="11" rx="2.8" fill="#bbb"/><path d="M1318.5,2338 a5.5,5.5 0 0 0 11,0 M1324,2344 v3.5" fill="none" stroke="#bbb" stroke-width="1.2"/>
<use href="#b-cam" x="1419.3" y="2339.6"/><use href="#b-loc" x="1515" y="2339.6"/>
<circle cx="1324" cy="2441" r="16.3" fill="currentColor"/><path d="M1320.5,2446 V2435 M1317.5,2438 L1320.5,2434.5 L1323.5,2438 M1327,2436 V2447 M1324,2444 L1327,2447.5 L1330,2444" fill="none" stroke="#fff" stroke-width="1.3"/>
<use href="#g-plane" x="1419.3" y="2441"/><use href="#b-wifi" x="1515" y="2441"/>
</g>
<g class="tk"><text x="1323.3" y="2277">Privacy Mode</text><text x="1419.3" y="2277">Bluetooth</text><text x="1515" y="2277">Do not disturb</text><text x="1419.3" y="2377.3">Camera</text><text x="1323.3" y="2479">Mobile data</text><text x="1420" y="2479">Airplane mode</text><text x="1514.7" y="2479">CMU-SECURE</text></g>
<g class="t"><text x="1324" y="2289.5" style="fill:#999">DARPA</text><text x="1324" y="2390" style="fill:#999">DARPA</text><text x="1515" y="2390" style="fill:#999">DARPA</text><text x="1323.7" y="2491.5" style="fill:#aaa">LTE</text><text x="1324" y="2377.3" style="fill:#ddd">Microphone</text><text x="1515" y="2377.3" style="fill:#ddd">Location</text></g>
<circle cx="1416" cy="2527" r="2" fill="#1f78e6"/><circle cx="1423.3" cy="2527" r="2" fill="#a9cdf6"/>
<path d="M1270,2549.7 H1568.3" stroke="#e8e8e8" stroke-width="1.2"/>
<path d="M1284,2575 L1294,2567 V2575Z" fill="#666"/>
<text class="tk start" x="1300.7" y="2575">Google Fi</text>
<g class="ck"><use href="#pencil" x="1512.7" y="2571"/><g transform="translate(1550,2571) scale(.8)"><use href="#gear"/></g></g>
<rect x="1286.7" y="2639.8" width="265" height="34" rx="17" fill="#55535a"/>
<text x="1305.7" y="2665" font-size="22" font-weight="500" style="fill:url(#gg)">G</text>
<circle cx="1524" cy="2656" r="3.4" fill="#4a78d0"/><circle cx="1533" cy="2654" r="1.5" fill="#d2483c"/><circle cx="1533" cy="2660" r="2" fill="#e0b030"/>
<rect x="1330.7" y="2624.2" width="177.6" height="36.8" rx="18" fill="#e4e4e4" fill-opacity=".92"/>
<text class="tk" x="1419.5" y="2646" style="font-size:9.4px">Location is set <tspan font-weight="500">ON</tspan> by <tspan font-weight="500">DARPA</tspan></text>
<path d="M1335.5,2695.5 L1332,2699 L1335.5,2702.5" fill="none" stroke="#fff" stroke-width="1.5"/>
<rect x="1408.7" y="2695.5" width="22" height="6.5" rx="3.2" fill="#fff"/>
<text class="cap" x="1425.8" y="2749.3" textLength="151.7" lengthAdjust="spacingAndGlyphs">materialize and</text>
<text class="cap" x="1425.3" y="2773.3" textLength="222.7" lengthAdjust="spacingAndGlyphs">consider privacy mode</text>
</g>
</svg>
